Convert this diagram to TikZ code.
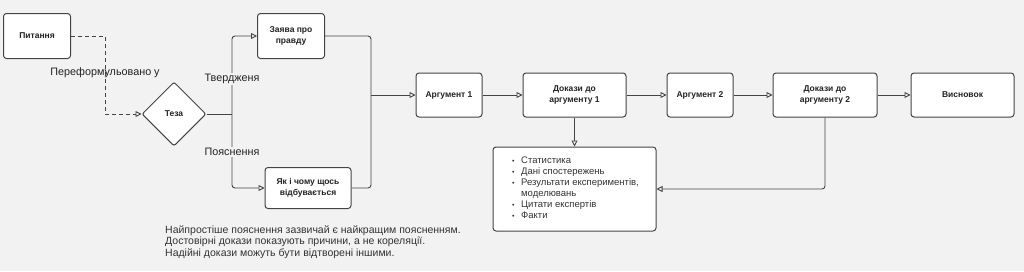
\documentclass[tikz,border=0pt]{standalone}
\usepackage{fontspec}
\setmainfont{Liberation Sans}
\usetikzlibrary{arrows.meta,calc,shapes.geometric}
\definecolor{PageGray}{HTML}{F2F2F2}
\definecolor{EdgeGray}{HTML}{444444}
\definecolor{InkDark}{HTML}{222222}
\definecolor{NoteGray}{HTML}{333333}
\newcommand{\factitem}[1]{\makebox[9pt][l]{\scriptsize\textbullet}#1}

\begin{document}
\begin{tikzpicture}[x=1pt, y=-1pt,
  box/.style={draw=EdgeGray, line width=1pt, rounded corners=3pt, fill=white,
    align=center, inner sep=2pt, text=InkDark,
    font=\fontsize{8.5}{10.5}\selectfont\bfseries},
  thesisbox/.style={box, shape=diamond, aspect=1, inner sep=0pt,
    minimum width=64pt, minimum height=64pt, rounded corners=2pt},
  plain/.style={draw=EdgeGray, line width=0.9pt, rounded corners=3pt},
  link/.style={plain, -{Triangle[open,length=6pt,width=6pt]}},
  edgelabel/.style={font=\fontsize{10.8}{13}\selectfont, text=InkDark,
    fill=PageGray, inner sep=1pt}]
  \fill[PageGray] (0,0) rectangle (1024,271);
  \useasboundingbox (0,0) rectangle (1024,271);

  % thesis part
  \node[box, minimum width=67pt, minimum height=45pt] (question) at (37,36) {Питання};
  \node[thesisbox] (thesis) at (174,114) {Теза};
  \node[box, minimum width=67pt, minimum height=45pt] (claim) at (291,36) {Заява про\\правду};
  \node[box, minimum width=86pt, minimum height=41pt] (how) at (308,188) {Як і чому щось\\відбувається};

  % argument chain
  \node[box, minimum width=66pt, minimum height=44pt] (arg1) at (449,95) {Аргумент 1};
  \node[box, minimum width=103pt, minimum height=44pt] (ev1) at (574.5,95) {Докази до\\аргументу 1};
  \node[box, minimum width=66pt, minimum height=44pt] (arg2) at (700,95) {Аргумент 2};
  \node[box, minimum width=104pt, minimum height=44pt] (ev2) at (825,95) {Докази до\\аргументу 2};
  \node[box, minimum width=103pt, minimum height=44pt] (concl) at (962.5,95) {Висновок};

  % kinds of evidence
  \node[box, minimum width=163pt, minimum height=84pt] (facts) at (574.5,189) {};
  \node[anchor=west, align=left, inner sep=0pt, text=NoteGray,
    font=\fontsize{9.5}{11}\selectfont] (factlist) at (512,188) {%
    \factitem{Статистика}\\
    \factitem{Дані спостережень}\\
    \factitem{Результати експериментів,}\\
    \hspace*{9pt}моделювань\\
    \factitem{Цитати експертів}\\
    \factitem{Факти}};

  \node[anchor=west, align=left, inner sep=0pt, text=NoteGray,
    font=\fontsize{10.5}{11.5}\selectfont] (note) at (165,242) {%
    Найпростіше пояснення зазвичай є найкращим поясненням.\\
    Достовірні докази показують причини, а не кореляції.\\
    Надійні докази можуть бути відтворені іншими.};

  % connectors
  \coordinate (reword) at (105,114);
  \draw[link, dash pattern=on 4pt off 3pt, rounded corners=0pt] (question.east) -| (reword) -- (thesis.west);
  \node[font=\fontsize{10.8}{13}\selectfont, text=InkDark] (rewordlabel) at (105,73) {Переформульовано у};

  \coordinate (split) at (232,114);
  \draw[plain] (thesis.east) -- (split);
  \draw[link] (split) |- (claim.west);
  \draw[link] (split) |- (how.west);
  \node[edgelabel] (assertlabel) at (232,79) {Твердженя};
  \node[edgelabel] (explainlabel) at (232,152) {Пояснення};

  \coordinate (merge) at (371,95);
  \draw[plain] (claim.east) -| (merge);
  \draw[plain] (how.east) -| (merge);
  \draw[link] (merge) -- (arg1.west);
  \draw[link] (arg1) -- (ev1);
  \draw[link] (ev1) -- (arg2);
  \draw[link] (arg2) -- (ev2);
  \draw[link] (ev2) -- (concl);
  \draw[link] (ev1.south) -- (facts.north);
  \draw[link] (ev2.south) |- (facts.east);
\end{tikzpicture}
\end{document}
